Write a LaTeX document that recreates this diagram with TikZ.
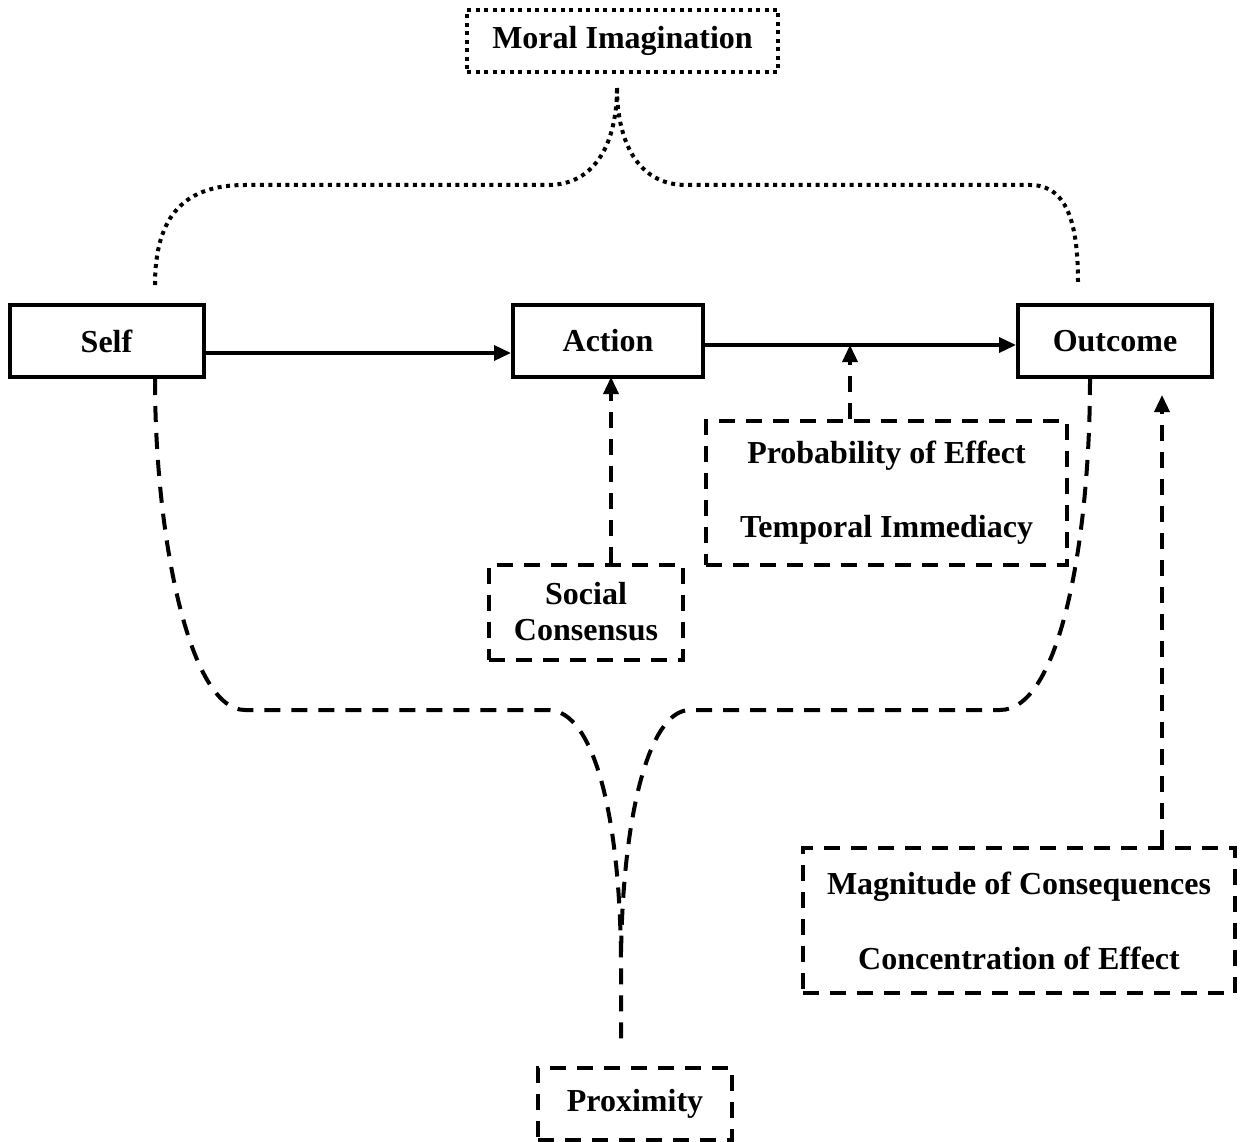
\documentclass[tikz,border=0pt]{standalone}
\usepackage{fontspec}
\setmainfont{Liberation Serif}
\usetikzlibrary{arrows.meta}
\begin{document}
\begin{tikzpicture}[x=1pt,y=-1pt,
 box/.style={draw, line width=4pt, inner sep=0pt, align=center, font=\bfseries\fontsize{32}{36}\selectfont},
 dashbox/.style={box, dash pattern=on 16pt off 11pt},
 dotbox/.style={box, dash pattern=on 4pt off 4.5pt},
 conn/.style={line width=3.5pt, -{Triangle[length=17pt,width=15pt]}},
 dashconn/.style={conn, dash pattern=on 16pt off 11pt},
 dashbrace/.style={line width=4pt, dash pattern=on 16pt off 11pt},
 dotbrace/.style={line width=4pt, dash pattern=on 4pt off 4.5pt}]
\useasboundingbox (0,0) rectangle (1240,1142);

% main nodes
\node[box, minimum width=194pt, minimum height=72pt] (self) at (106.5,341) {Self};
\node[box, minimum width=190pt, minimum height=72pt] (action) at (608,341) {Action};
\node[box, minimum width=194pt, minimum height=72pt] (outcome) at (1115,341) {Outcome};
\node[dotbox, minimum width=311pt, minimum height=62pt] (moral) at (622.5,41) {Moral Imagination};
\node[dashbox, minimum width=361pt, minimum height=144pt] (prob) at (886.5,493) {Probability of Effect\\[38pt]Temporal Immediacy};
\node[dashbox, minimum width=194pt, minimum height=95pt] (social) at (586,612) {Social\\Consensus};
\node[dashbox, minimum width=432pt, minimum height=145pt] (magn) at (1019,920.5) {Magnitude of Consequences\\[39pt]Concentration of Effect};
\node[dashbox, minimum width=194pt, minimum height=72pt] (prox) at (635,1104) {Proximity};

% helper coordinates
\coordinate (pa) at (850,345);
\coordinate (sa) at (611,377);
\coordinate (ma) at (1162,395);
\coordinate (mtip) at (617,88);
\coordinate (ptip) at (621,960);
\coordinate (pend) at (621,1040);

% solid connectors
\draw[conn] ([yshift=-12pt]self.east) -- ([yshift=-12pt]action.west);
\draw[conn] ([yshift=-4pt]action.east) -- ([yshift=-4pt]outcome.west);

% dashed connectors
\draw[dashconn] (prob.north -| pa) -- (pa);
\draw[dashconn] (social.north -| sa) -- (sa);
\draw[dashconn] (magn.north -| ma) -- (ma);

% top dotted brace
\draw[dotbrace] (155,285) .. controls (155,215) and (185,185) .. (245,185) -- (548,185)
  .. controls (597,185) and (617,140) .. (mtip);
\draw[dotbrace] (mtip) .. controls (617,140) and (637,185) .. (686,185) -- (1030,185)
  .. controls (1070,185) and (1078,230) .. (1078,283);

% bottom dashed brace
\draw[dashbrace] (self.south -| 155,0) .. controls (155,540) and (190,710) .. (245,710) -- (548,710)
  .. controls (595,710) and (620,820) .. (ptip) -- (pend);
\draw[dashbrace] (outcome.south -| 1090,0) .. controls (1090,540) and (1060,710) .. (1000,710) -- (690,710)
  .. controls (648,710) and (622,820) .. (ptip);
\end{tikzpicture}
\end{document}
